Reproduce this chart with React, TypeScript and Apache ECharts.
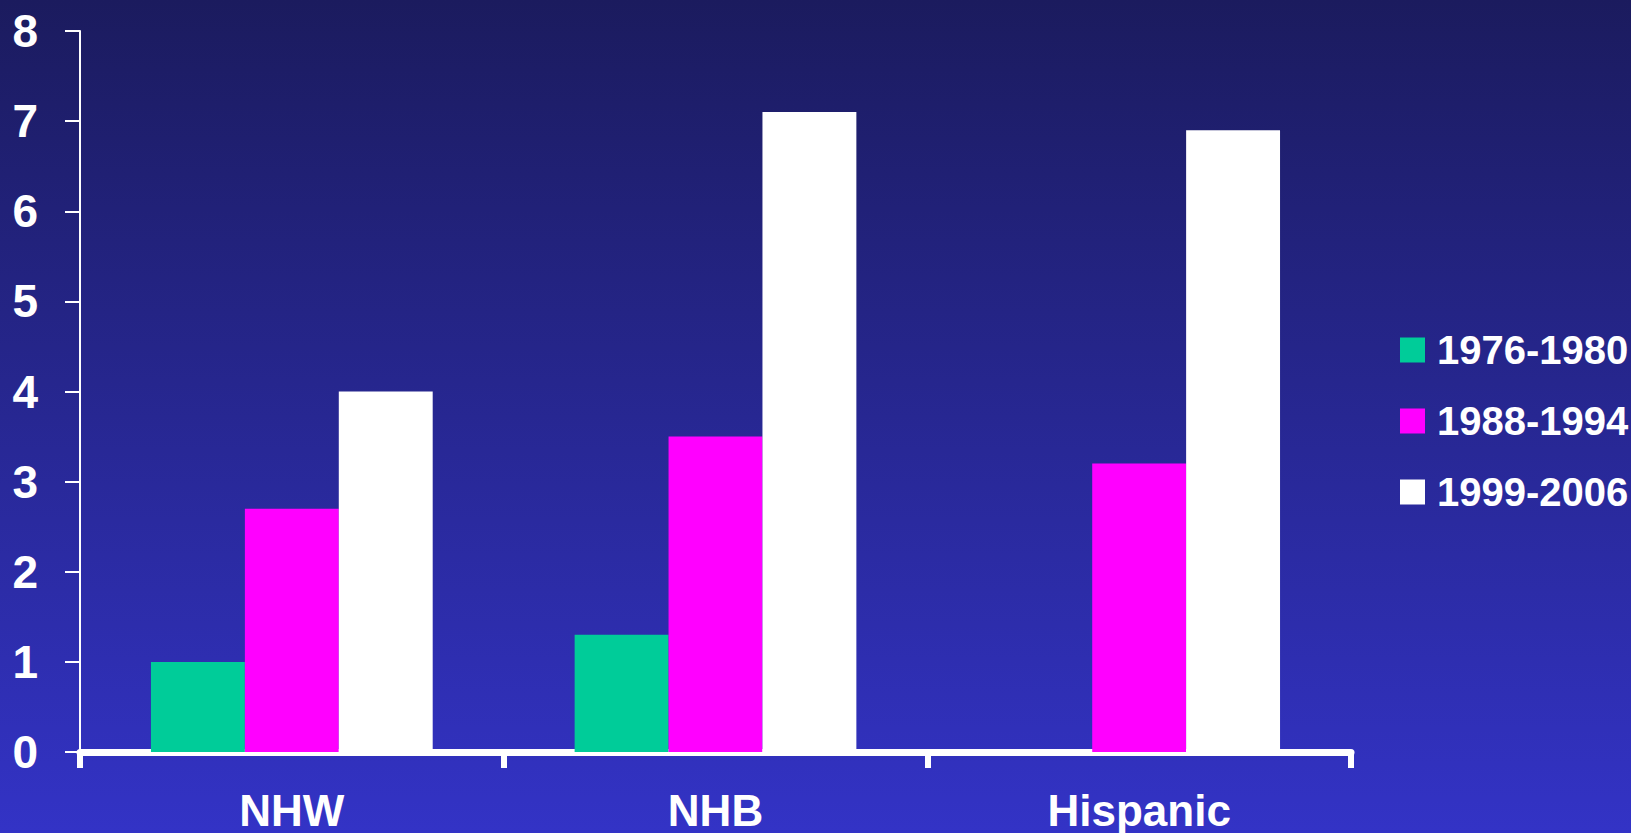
import React, { useEffect, useRef } from "react";
import * as echarts from "echarts";

const categories = ["NHW", "NHB", "Hispanic"];
const seriesNames = ["1976-1980", "1988-1994", "1999-2006"];
const values1976 = [1.0, 1.3, 0];
const values1988 = [2.7, 3.5, 3.2];
const values1999 = [4.0, 7.1, 6.9];
const seriesColors = ["#00CC99", "#FF00FF", "#FFFFFF"];
const yTicks = [0, 1, 2, 3, 4, 5, 6, 7, 8];

const FONT = "'Liberation Sans Narrow', 'Arial Narrow', 'Liberation Sans', Arial, sans-serif";

export default function App() {
  const ref = useRef<HTMLDivElement>(null);
  useEffect(() => {
    document.body.style.margin = "0";
    if (!ref.current) return;
    const chart = echarts.init(ref.current, null, { renderer: "svg" });
    const data = [values1976, values1988, values1999];
    chart.setOption({
      animation: false,
      backgroundColor: new echarts.graphic.LinearGradient(0, 0, 0, 1, [
        { offset: 0, color: "#1b1b5e" },
        { offset: 1, color: "#3333c6" },
      ]),
      grid: { left: 80, top: 31, right: 280, bottom: 81, containLabel: false },
      legend: {
        orient: "vertical",
        left: 1395,
        top: 321,
        itemWidth: 25,
        itemHeight: 25,
        itemGap: 23,
        icon: "rect",
        data: seriesNames,
        textStyle: {
          color: "#ffffff",
          fontFamily: FONT,
          fontWeight: "bold",
          fontSize: 40,
          lineHeight: 48,
          padding: [0, 0, 0, 7],
        },
      },
      xAxis: {
        type: "category",
        data: categories,
        axisLine: { show: true, lineStyle: { color: "#ffffff", width: 7 } },
        axisTick: { show: true, length: 16, lineStyle: { color: "#ffffff", width: 6 } },
        axisLabel: {
          color: "#ffffff",
          fontFamily: FONT,
          fontWeight: "bold",
          fontSize: 44,
          margin: 36,
        },
        splitLine: { show: false },
      },
      yAxis: {
        type: "value",
        min: yTicks[0],
        max: yTicks[yTicks.length - 1],
        interval: 1,
        axisLine: { show: true, lineStyle: { color: "#ffffff", width: 2 } },
        axisTick: { show: true, length: 15, lineStyle: { color: "#ffffff", width: 2 } },
        axisLabel: {
          color: "#ffffff",
          fontFamily: FONT,
          fontWeight: "bold",
          fontSize: 46,
          margin: 42,
        },
        splitLine: { show: false },
      },
      series: seriesNames.map((name, i) => ({
        name,
        type: "bar",
        data: data[i],
        itemStyle: { color: seriesColors[i] },
        barGap: "0%",
        barCategoryGap: "33.5%",
      })),
    });
    return () => chart.dispose();
  }, []);
  return <div ref={ref} style={{ width: 1631, height: 833 }} />;
}
